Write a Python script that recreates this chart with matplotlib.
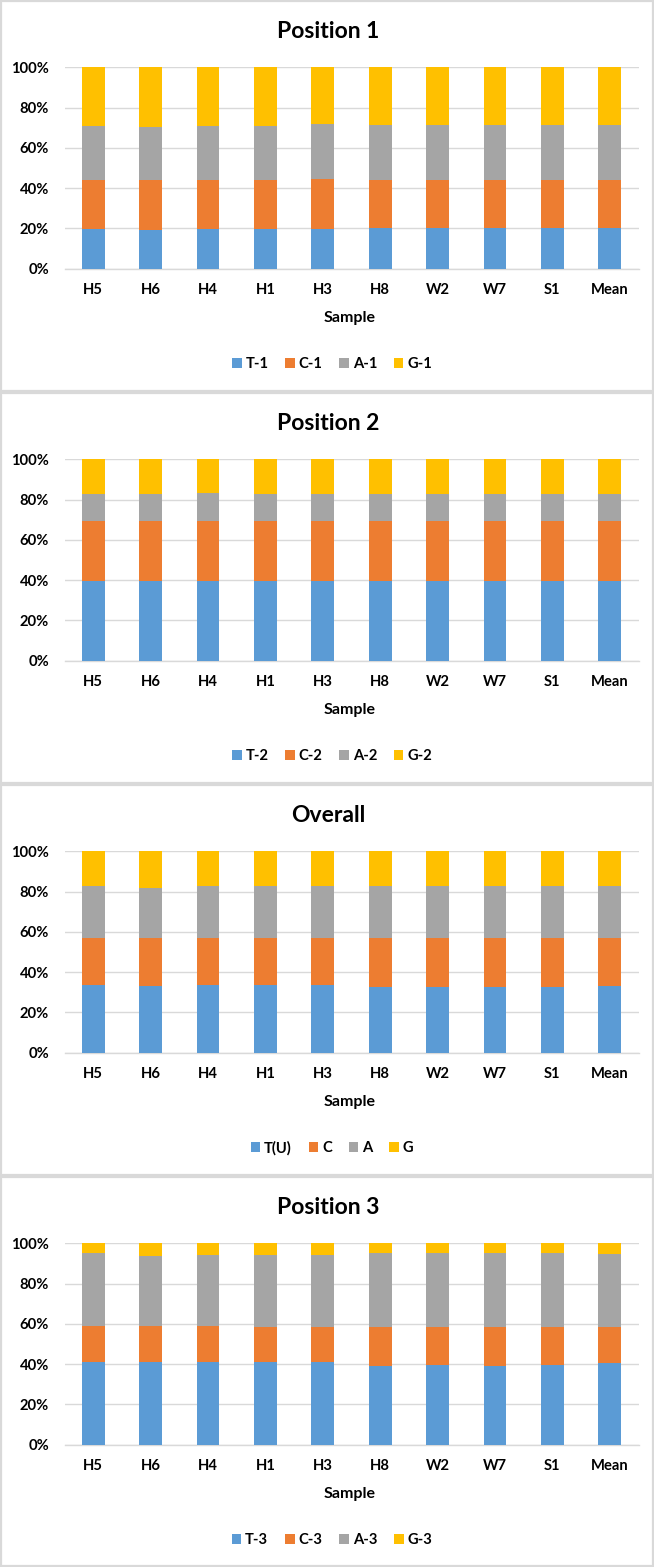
import matplotlib
matplotlib.use("Agg")
import matplotlib.pyplot as plt
from matplotlib.patches import Rectangle, Patch
import numpy as np

plt.rcParams['font.family'] = ['Lato', 'DejaVu Sans']
plt.rcParams['font.weight'] = 'bold'

samples = ['H5', 'H6', 'H4', 'H1', 'H3', 'H8', 'W2', 'W7', 'S1', 'Mean']

# Position 1 (percent)
T1 = [19.8, 19.0, 19.8, 19.8, 19.8, 19.9, 19.9, 19.9, 19.9, 19.9]
C1 = [24.2, 25.0, 24.2, 24.2, 24.5, 24.1, 24.1, 24.1, 24.1, 24.2]
A1 = [27.0, 26.2, 27.0, 27.0, 27.6, 27.1, 27.1, 27.1, 27.1, 27.0]
G1 = [29.0, 29.8, 29.0, 29.0, 28.1, 28.9, 28.9, 28.9, 28.9, 28.9]

# Position 2
T2 = [39.7, 39.7, 39.7, 39.7, 39.7, 39.7, 39.7, 39.7, 39.7, 39.7]
C2 = [29.4, 29.4, 29.4, 29.4, 29.4, 29.4, 29.4, 29.4, 29.4, 29.4]
A2 = [13.5, 13.5, 14.0, 13.5, 13.5, 13.5, 13.5, 13.5, 13.5, 13.6]
G2 = [17.4, 17.4, 16.9, 17.4, 17.4, 17.4, 17.4, 17.4, 17.4, 17.3]

# Overall
T0 = [33.5, 33.2, 33.5, 33.5, 33.5, 32.8, 32.8, 32.8, 32.8, 33.2]
C0 = [23.6, 23.9, 23.6, 23.6, 23.6, 24.3, 24.3, 24.3, 24.3, 23.9]
A0 = [25.7, 24.9, 25.7, 25.7, 25.7, 25.7, 25.7, 25.7, 25.7, 25.5]
G0 = [17.2, 18.0, 17.2, 17.2, 17.2, 17.2, 17.2, 17.2, 17.2, 17.4]

# Position 3
T3 = [40.9, 40.9, 40.9, 40.9, 40.9, 39.0, 39.6, 39.0, 39.6, 40.3]
C3 = [17.8, 17.8, 17.8, 17.5, 17.5, 19.4, 18.8, 19.4, 18.8, 18.2]
A3 = [36.3, 35.0, 35.7, 36.0, 36.0, 36.8, 36.8, 36.8, 36.8, 36.0]
G3 = [5.0, 6.3, 5.6, 5.6, 5.6, 4.8, 4.8, 4.8, 4.8, 5.5]

panels = [
    ("Position 1", [T1, C1, A1, G1], ['T-1', 'C-1', 'A-1', 'G-1']),
    ("Position 2", [T2, C2, A2, G2], ['T-2', 'C-2', 'A-2', 'G-2']),
    ("Overall", [T0, C0, A0, G0], ['T(U)', 'C', 'A', 'G']),
    ("Position 3", [T3, C3, A3, G3], ['T-3', 'C-3', 'A-3', 'G-3']),
]

colors = ['#5B9BD5', '#ED7D31', '#A5A5A5', '#FFC000']
grid_c = '#D9D9D9'

W, H = 654, 1567
fig = plt.figure(figsize=(W / 100, H / 100), dpi=100)
fig.patch.set_facecolor('white')

def fx(x):
    return x / W

def fy(y):
    return 1 - y / H

period = 392
ax_left, ax_right = 64.5, 638.5
for i, (title, series, labels) in enumerate(panels):
    o = i * period
    top = o + 1
    bot = min(o + 391, H - 1)
    fig.add_artist(Rectangle((fx(1), fy(bot)), fx(652), (bot - top) / H,
                             transform=fig.transFigure, fill=False,
                             edgecolor=grid_c, lw=1.6))
    ax_top, ax_bot = o + 67.3, o + 268.5
    ax = fig.add_axes([fx(ax_left), fy(ax_bot), fx(ax_right - ax_left), (ax_bot - ax_top) / H])
    x = np.arange(len(samples))
    bottom = np.zeros(len(samples))
    for vals, col in zip(series, colors):
        v = np.array(vals, dtype=float)
        ax.bar(x, v / 100.0, 0.4, bottom=bottom, color=col, zorder=3)
        bottom += v / 100.0
    ax.set_xlim(-0.5, len(samples) - 0.5)
    ax.set_ylim(0, 1)
    ticks = np.arange(0, 1.01, 0.2)
    ax.set_yticks(ticks)
    ax.set_yticklabels([f"{int(round(t * 100))}%" for t in ticks])
    ax.set_xticks(x)
    ax.set_xticklabels(samples)
    ax.tick_params(axis='both', length=0, labelsize=10.6, colors='black')
    ax.tick_params(axis='y', pad=11)
    ax.tick_params(axis='x', pad=10.5)
    for lab in ax.get_xticklabels() + ax.get_yticklabels():
        lab.set_fontweight('bold')
    ax.grid(axis='y', color=grid_c, lw=1.0, zorder=0)
    ax.set_axisbelow(True)
    for s in ['top', 'right', 'left']:
        ax.spines[s].set_visible(False)
    ax.spines['bottom'].set_color(grid_c)
    ax.spines['bottom'].set_linewidth(1.0)
    ax.spines['bottom'].set_zorder(2)

    fig.text(fx(328), fy(o + 32), title, ha='center', va='center',
             fontsize=16.5, fontweight='bold', color='black')
    fig.text(fx((ax_left + ax_right) / 2 - 2), fy(o + 318), 'Sample', ha='center', va='center',
             fontsize=11.5, fontweight='bold', color='black')
    handles = [Patch(facecolor=c, edgecolor='none') for c in colors]
    fig.legend(handles, labels, loc='center', bbox_to_anchor=(fx(332), fy(o + 364)),
               ncol=4, frameon=False, prop={'weight': 'bold', 'size': 10.6},
               handlelength=0.65, handleheight=0.65, handletextpad=0.25,
               columnspacing=1.15, borderpad=0, borderaxespad=0)

fig.savefig('out.png', dpi=100, facecolor='white')
